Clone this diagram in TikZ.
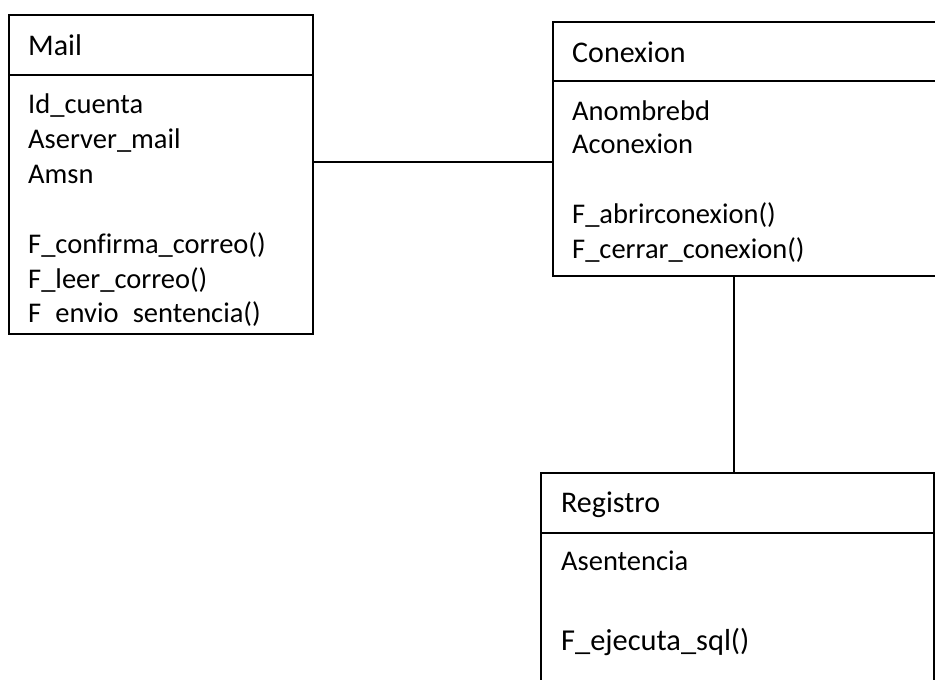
\documentclass[tikz,border=0pt]{standalone}
\usepackage{fontspec}
\setmainfont{Carlito}[Ligatures=NoCommon]
\begin{document}
\begin{tikzpicture}[x=1pt,y=-1pt,
  boxline/.style={line width=1.5pt,black},
  classbox/.style={draw,boxline,rectangle,inner sep=0pt,anchor=north west},
  title/.style={anchor=base west,inner sep=0pt,font=\fontsize{30}{36}\selectfont},
  member/.style={anchor=base west,inner sep=0pt,font=\fontsize{28.5}{35}\selectfont},
  bigmember/.style={anchor=base west,inner sep=0pt,font=\fontsize{30.4}{36}\selectfont}]
\useasboundingbox (0,0) rectangle (935,680);
\clip (0,0) rectangle (935,680);
% Mail
\node[classbox,minimum width=304pt,minimum height=319pt] (mail) at (8,14) {};
\draw[boxline] (8,75) -- (312,75);
\node[title] (mailt) at (28,55) {Mail};
\node[member] (m1) at (28,113) {Id\_cuenta};
\node[member] (m2) at (28,148) {Aserver\_mail};
\node[member] (m3) at (28,183) {Amsn};
\node[member] (m4) at (28,253) {F\_confirma\_correo()};
\node[member] (m5) at (28,288) {F\_leer\_correo()};
\node[member] (m6) at (28,322) {F\phantom{\_}envio\phantom{\_}sentencia()};
% Conexion
\node[classbox,minimum width=393pt,minimum height=254pt] (con) at (552,21) {};
\draw[boxline] (552,81) -- (945,81);
\node[title] (cont) at (572,62) {Conexion};
\node[member] (c1) at (572,120) {Anombrebd};
\node[member] (c2) at (572,153) {Aconexion};
\node[member] (c3) at (572,223) {F\_abrirconexion()};
\node[member] (c4) at (572,258) {F\_cerrar\_conexion()};
% Registro
\node[classbox,minimum width=393pt,minimum height=228pt] (reg) at (540,472) {};
\draw[boxline] (540,533) -- (933,533);
\node[title] (regt) at (561,512) {Registro};
\node[member] (r1) at (561,570) {Asentencia};
\node[bigmember] (r2) at (561,650) {F\_ejecuta\_sql()};
% connectors
\coordinate (hline) at (0,162);
\coordinate (vline) at (734,0);
\draw[boxline] (mail.east |- hline) -- (con.west |- hline);
\draw[boxline] (con.south -| vline) -- (reg.north -| vline);
\end{tikzpicture}
\end{document}
